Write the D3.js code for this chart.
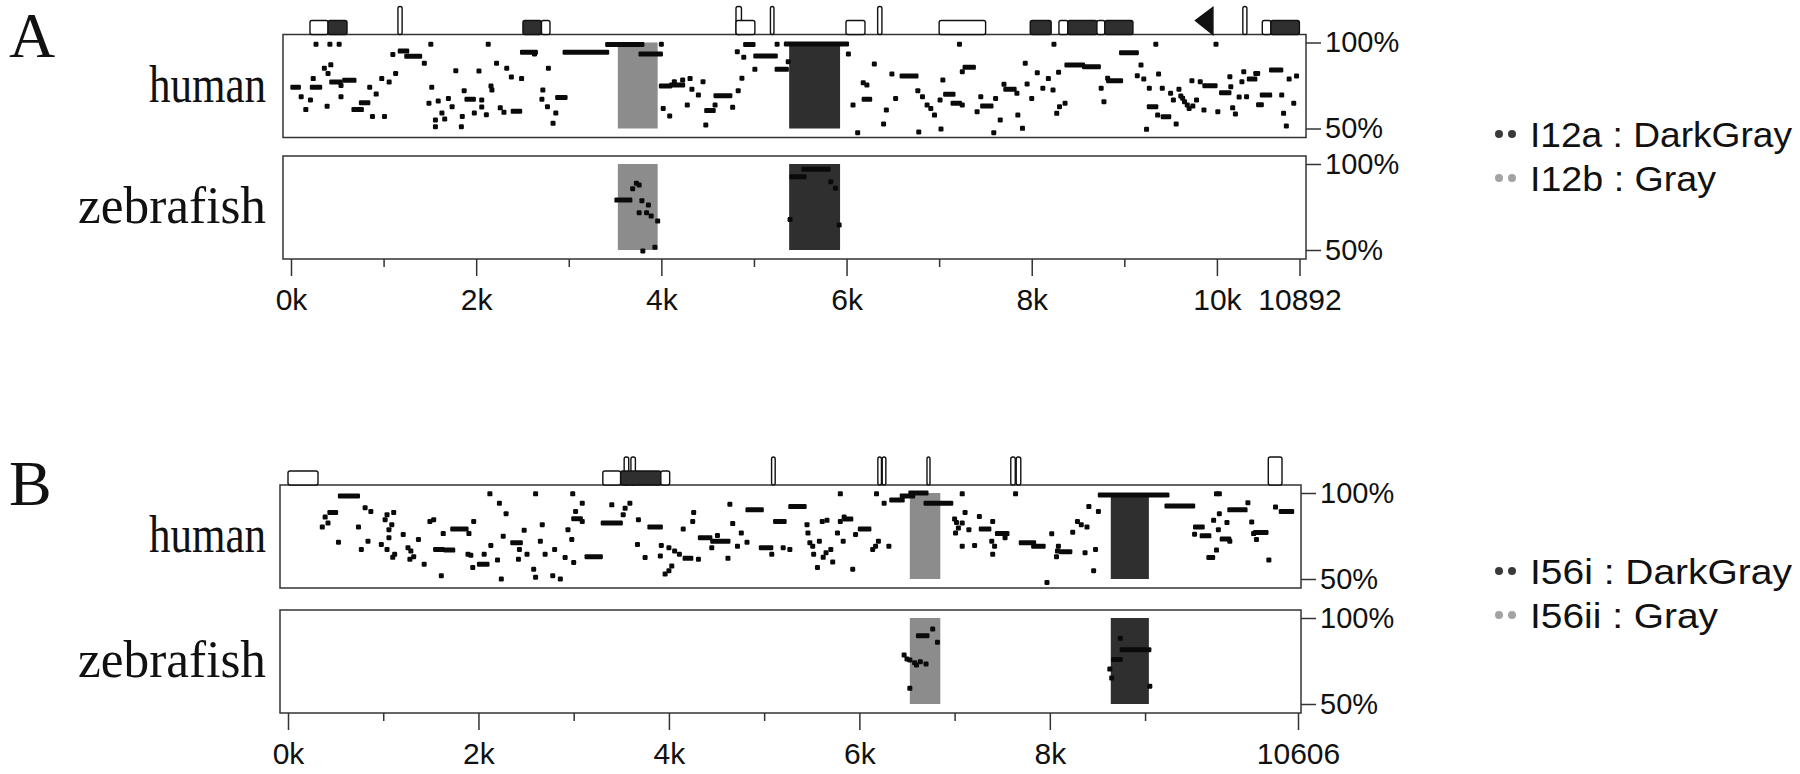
<!DOCTYPE html>
<html>
<head>
<meta charset="UTF-8" />
<title>Conservation plot</title>
<script src="https://cdn.jsdelivr.net/npm/d3@7"></script>
<style>
  body { margin: 0; background: #fff; }
  svg { display: block; background: #fff; }
  .axis text { font-family: "Liberation Sans", Arial, sans-serif; fill: #111; }
  .axis line { stroke: #333; stroke-width: 1.5; }
  .lab { font-family: "Liberation Serif", "Times New Roman", serif; fill: #111; }
  .legend text { font-family: "Liberation Sans", Arial, sans-serif; fill: #111; }
</style>
</head>
<body>
<div id="chart"></div>
<script>
// ---- data (positions in kb, identity in %) ----
const lenA = 10.892, lenB = 10.606;
const tickValsA = [0, 2, 4, 6, 8, 10, 10.892];
const tickLabsA = ["0k", "2k", "4k", "6k", "8k", "10k", "10892"];
const tickValsB = [0, 2, 4, 6, 8, 10.606];
const tickLabsB = ["0k", "2k", "4k", "6k", "8k", "10606"];
const minorTicks = [1, 3, 5, 7, 9];

const regionsA = [
  { name: "I12a", color: "DarkGray", start: 5.38, end: 5.93 },
  { name: "I12b", color: "Gray", start: 3.53, end: 3.96 }
];
const regionsB = [
  { name: "I56i", color: "DarkGray", start: 8.64, end: 9.04 },
  { name: "I56ii", color: "Gray", start: 6.53, end: 6.85 }
];

// gene features above the human track: [start, end, kind]
const featuresA = [
  [0.205, 0.40, "open"], [0.40, 0.605, "fill"], [1.155, 1.2, "tall"],
  [2.505, 2.705, "fill"], [2.705, 2.797, "open"],
  [4.806, 4.865, "tall"], [4.806, 5.01, "open"], [5.178, 5.216, "tall"],
  [5.994, 6.199, "open"], [6.336, 6.382, "tall"], [7.0, 7.502, "open"],
  [7.984, 8.21, "fill"], [8.294, 8.39, "open"], [8.39, 8.704, "fill"],
  [8.704, 8.79, "open"], [8.79, 9.093, "fill"], [9.768, 9.957, "tri"],
  [10.28, 10.324, "tall"], [10.49, 10.583, "open"], [10.583, 10.891, "fill"]
];
const featuresB = [
  [0.0, 0.315, "open"], [3.53, 3.578, "tall"], [3.601, 3.648, "tall"],
  [3.306, 3.493, "open"], [3.493, 3.915, "fill"], [3.915, 4.008, "open"],
  [5.078, 5.116, "tall"], [6.194, 6.232, "tall"], [6.24, 6.278, "tall"],
  [6.71, 6.738, "tall"], [7.59, 7.637, "tall"], [7.647, 7.695, "tall"],
  [10.294, 10.438, "tall"]
];

// conservation windows: [start, end, percent]
const humanA = [
  [0.27,0.27,99],[0.42,0.42,99],[0.52,0.52,99],[1.51,1.51,99],[2.13,2.13,99],[4.0,4.0,99],[7.22,7.22,99],[8.24,8.24,99],[9.34,9.34,99],[9.99,9.99,99],
  [0.02,0.08,74],[0.11,0.11,68.5],[0.16,0.16,61],[0.21,0.21,66.6],[0.23,0.31,74],[0.24,0.24,79],[0.36,0.36,85],[0.39,0.39,63],[0.40,0.40,82],[0.43,0.43,87],[0.44,0.53,77],[0.54,0.54,75],[0.54,0.54,68.5],[0.58,0.68,78],
  [0.68,0.76,61],[0.76,0.83,65],[0.85,0.85,74],[0.88,0.88,57],[0.92,0.92,70],[0.98,0.98,79],[1.01,1.01,57],[1.06,1.06,77],[1.10,1.10,93],[1.13,1.13,82],[1.18,1.25,95],[1.25,1.39,92],[1.44,1.44,88],
  [1.49,1.49,64.7],[1.52,1.52,74],[1.56,1.56,55],[1.56,1.56,51],[1.59,1.59,66],[1.63,1.63,59],[1.66,1.66,55.5],[1.70,1.70,67.5],[1.74,1.74,62.7],[1.78,1.78,83.6],[1.84,1.84,51],[1.85,1.85,57],[1.87,1.87,72],[1.90,1.97,67],[1.98,1.98,59],[2.03,2.03,83.4],[2.06,2.06,66.6],[2.06,2.06,62.5],[2.11,2.11,58],[2.16,2.16,74.7],[2.17,2.17,72.4],[2.22,2.22,88],[2.26,2.26,62],[2.30,2.30,59.4],[2.33,2.33,85],[2.38,2.38,80],[2.40,2.47,60],[2.49,2.49,79],[2.50,2.64,94.3],[2.63,2.63,93.3],[2.71,2.71,67],[2.72,2.72,72.4],[2.77,2.77,62.7],[2.78,2.78,85],[2.83,2.83,53],[2.86,2.86,59],[2.88,2.96,68],
  [2.96,3.41,94.3],[3.42,3.79,98.9],[3.78,3.99,93.3],
  [4.0,4.09,74.7],[4.02,4.02,61.7],[4.09,4.09,57.3],[4.11,4.23,75.3],[4.14,4.14,77.2],[4.23,4.23,78.2],[4.28,4.28,63.7],[4.31,4.31,79],[4.33,4.33,72.8],[4.40,4.40,69.5],[4.45,4.45,77.2],[4.48,4.48,52],[4.49,4.56,60.4],[4.58,4.58,63.7],[4.59,4.74,69.1],[4.77,4.77,62.3],[4.82,4.82,94.6],[4.83,4.83,72],[4.87,4.87,79.2],[4.89,4.89,91.4],[4.91,4.99,98.9],[5.01,5.01,84.4],[5.02,5.23,92.2],[5.25,5.25,99],[5.25,5.35,84.4],[5.37,5.37,88.8],[5.35,6.0,99.1],
  [6.02,6.02,93.3],[6.07,6.07,63.7],[6.12,6.12,47.6],[6.18,6.18,76.6],[6.19,6.25,67],[6.22,6.22,75.3],[6.30,6.30,87.5],[6.40,6.40,52.6],[6.43,6.43,60.8],[6.49,6.49,81.7],[6.53,6.53,67.5],[6.60,6.75,80.5],[6.77,6.77,72],[6.78,6.78,48],[6.82,6.82,68.5],[6.87,6.87,63.7],[6.91,6.91,61.7],[6.95,6.95,57.8],[7.01,7.01,66.6],[7.02,7.02,49.7],[7.04,7.04,78.2],[7.07,7.15,69.9],[7.15,7.22,64.7],[7.25,7.25,63.7],[7.25,7.25,83],[7.28,7.37,85.6],[7.41,7.41,59.8],[7.45,7.45,68.5],[7.47,7.56,63.1],[7.59,7.59,47.6],[7.61,7.61,67.5],[7.66,7.66,55],[7.70,7.70,75.7],[7.72,7.81,72.8],[7.84,7.84,70.5],[7.85,7.85,57.8],[7.90,7.90,50.1],[7.93,7.93,87.9],[7.95,7.95,75.9],[8.0,8.0,67.5],[8.06,8.06,82.4],[8.12,8.12,73.4],[8.18,8.18,79],[8.23,8.23,72.4],[8.27,8.27,58.8],[8.29,8.29,82.7],[8.30,8.30,62.7],[8.36,8.36,64.7],[8.38,8.55,86.9],[8.57,8.72,85.9],[8.75,8.75,73.4],[8.78,8.78,65.6],[8.82,8.82,79.2],[8.83,8.96,77.8],
  [8.97,9.13,94.1],[9.14,9.14,80.7],[9.18,9.18,86.9],[9.21,9.21,78.8],[9.24,9.24,49.5],[9.27,9.27,73.4],[9.27,9.34,62.7],[9.36,9.36,57.8],[9.37,9.37,81.7],[9.41,9.41,73.4],[9.42,9.48,56.9],[9.50,9.50,70.5],[9.53,9.53,66.6],[9.56,9.56,52.6],[9.59,9.59,72.8],[9.61,9.61,68.9],[9.63,9.63,67.6],[9.65,9.65,65.6],[9.68,9.68,63.7],[9.70,9.70,61.7],[9.73,9.73,77.8],[9.74,9.74,63.1],[9.78,9.78,66.6],[9.82,9.82,77.2],[9.86,9.86,60.8],[9.87,9.98,74.9],[10.01,10.01,59.8],[10.05,10.13,70.8],[10.14,10.14,80.1],[10.15,10.15,74.3],[10.17,10.17,62],[10.20,10.20,58.4],[10.24,10.24,68.3],[10.27,10.27,77.2],[10.29,10.29,83],[10.32,10.32,68.5],[10.35,10.41,78.8],[10.42,10.44,82],[10.45,10.48,63.8],[10.49,10.57,69.5],[10.59,10.69,84],[10.70,10.70,69.5],[10.72,10.72,58.8],[10.75,10.75,51.5],[10.78,10.78,78.8],[10.83,10.83,64.7],[10.86,10.86,80.5]
];
const zebraA = [
  [3.52,3.66,79],[3.69,3.69,85.6],[3.73,3.73,88.8],[3.76,3.76,87.8],[3.79,3.79,78.7],[3.80,3.80,49.4],[3.76,3.76,71.7],[3.84,3.84,71.7],[3.86,3.86,76.2],[3.89,3.89,69.8],[3.93,3.93,51.6],[3.96,3.96,66.9],
  [5.41,5.54,92.6],[5.54,5.80,96.9],[5.83,5.83,89.7],[5.88,5.88,85.9],[5.39,5.39,67.8],[5.92,5.92,64.5]
];
const humanB = [
  [0.55,0.73,98.3],[0.44,0.50,88.7],[0.39,0.39,86],[0.36,0.36,80.3],[0.42,0.42,82.6],[0.53,0.53,71.4],[0.74,0.74,80.3],[0.81,0.81,91.4],[0.87,0.87,89.3],[0.84,0.84,72],[0.77,0.77,67.2],[0.98,0.98,70.1],[1.02,1.02,84.5],[1.04,1.04,87.4],[1.11,1.11,88.7],[1.09,1.09,81.6],[1.06,1.06,78.7],[1.06,1.06,74],[1.04,1.04,67.2],[1.12,1.12,64.4],[1.10,1.10,62.6],[1.21,1.21,75.9],[1.26,1.26,68.2],[1.29,1.29,66.3],[1.32,1.32,63],[1.28,1.28,61.5],[1.37,1.37,73],[1.43,1.43,58.6],[1.49,1.49,83.5],[1.53,1.53,84.5],[1.55,1.62,67.2],[1.66,1.73,66.8],[1.63,1.63,76.4],[1.61,1.61,51.9],[1.73,1.87,79.1],[1.90,1.90,76.4],[1.95,1.95,83.5],[1.89,1.89,64.4],[1.92,1.92,63.8],[1.94,1.94,56.7],[2.01,2.09,58.6],[2.06,2.06,64.4],[2.13,2.13,69.5],[2.12,2.12,99.5],[2.22,2.22,94.1],[2.29,2.29,88],[2.26,2.26,74.9],[2.20,2.20,61.1],[2.24,2.24,50],[2.36,2.44,71.1],[2.43,2.43,67.2],[2.42,2.42,61.5],[2.48,2.48,78.3],[2.51,2.51,64.4],[2.58,2.58,55.7],[2.60,2.60,51],[2.60,2.60,99.5],[2.65,2.65,72],[2.67,2.67,81.6],[2.70,2.70,64.4],[2.78,2.78,51.9],[2.80,2.80,67.2],[2.86,2.86,50],[2.91,2.91,62.5],[2.94,2.94,78.7],[2.98,2.98,73],[2.99,2.99,99.5],
  [3.14,3.28,63],[3.02,3.02,89.3],[3.09,3.09,94.1],[3.0,3.07,85],[3.09,3.09,83.5],[3.0,3.0,59.6],[3.40,3.40,93.1],[3.31,3.49,82.6],[3.54,3.54,91.2],[3.59,3.59,94.1],[3.52,3.52,87.4],[3.68,3.68,84.5],[3.80,3.91,80.3],[3.75,3.75,62.5],[3.67,3.67,70.1],[3.92,3.92,69.5],[4.0,4.0,68.2],[4.06,4.06,66.3],[4.11,4.11,64.4],[4.17,4.23,62],[4.31,4.31,61.5],[3.96,3.96,52.9],[4.0,4.0,54.8],[4.03,4.03,57.6],[3.91,3.91,63.4],[4.15,4.15,79.1],[4.25,4.25,83.5],[4.26,4.26,88.7],[4.33,4.43,74],[4.45,4.45,68.2],[4.46,4.62,72],[4.51,4.51,75.3],[4.62,4.62,62],[4.64,4.64,93.5],[4.67,4.67,82.2],[4.72,4.72,69.1],[4.76,4.76,76.8],[4.82,4.82,71.4],[4.83,4.97,90.2],[4.97,5.07,68.2],[5.08,5.08,64.4],[5.12,5.21,83.5],[5.20,5.20,68.2],[5.27,5.27,67.2],[5.28,5.42,92.1],[5.45,5.45,81.6],[5.46,5.46,76.8],[5.48,5.48,71.1],[5.51,5.51,69.1],[5.52,5.52,64.4],[5.56,5.56,56.7],[5.58,5.58,72],[5.61,5.61,83.5],[5.62,5.62,62.6],[5.65,5.65,65.3],[5.66,5.66,84.1],[5.70,5.70,67.2],[5.72,5.72,59.9],[5.77,5.77,76.8],[5.80,5.80,83.5],[5.80,5.80,99.5],[5.84,5.84,86],[5.85,5.91,84.9],[5.83,5.83,72],[5.93,5.93,55.7],[5.96,5.96,75.9],
  [6.01,6.10,79.1],[6.14,6.14,67.2],[6.17,6.17,69.1],[6.20,6.20,72],[6.18,6.18,99.5],[6.31,6.31,69.1],[6.26,6.26,94.1],[6.34,6.45,96],[6.45,6.56,98.3],[6.54,6.70,100],[6.70,6.96,94.1],[7.0,7.0,84.9],[7.02,7.02,82.9],[7.04,7.04,79.7],[7.08,7.08,99.5],[7.11,7.11,88.7],[7.15,7.15,78.7],[7.08,7.08,82.6],[7.01,7.01,76.8],[7.08,7.08,69.1],[7.21,7.21,69.5],[7.26,7.26,86.4],[7.28,7.36,79.1],[7.40,7.40,83.5],[7.39,7.39,72],[7.42,7.42,69.1],[7.40,7.40,64.4],[7.45,7.55,76.4],[7.53,7.53,74],[7.64,7.64,99.5],[7.70,7.83,71.1],[7.83,7.93,69.1],[7.97,7.97,48],
  [8.02,8.02,76.3],[8.08,8.08,66.3],[8.09,8.09,69.1],[8.07,8.07,63],[8.12,8.21,65.9],[8.24,8.24,77.2],[8.29,8.29,83.5],[8.33,8.33,81.6],[8.37,8.37,65.3],[8.39,8.39,80.3],[8.46,8.46,54.8],[8.48,8.48,67.2],[8.41,8.41,92.1],[8.51,8.51,89.3],[8.53,9.23,98.8],[9.23,9.50,92.5],[9.52,9.52,76],[9.53,9.60,80.3],[9.60,9.67,75.1],[9.67,9.71,62.5],[9.72,9.72,84.1],[9.75,9.75,99.5],[9.78,9.78,99.5],[9.75,9.75,66.8],[9.77,9.77,78.7],[9.78,9.78,87.9],[9.81,9.88,73.2],[9.86,9.86,82.8],[9.89,9.89,72],[9.89,10.05,90.2],[10.08,10.08,94.3],[10.12,10.12,83.1],[10.14,10.14,76.4],[10.16,10.27,77],[10.17,10.17,73],[10.30,10.30,61.1],[10.37,10.37,91.8],[10.43,10.54,89.3]
];
const zebraB = [
  [6.47,6.47,78.5],[6.50,6.50,76.2],[6.53,6.53,75.6],[6.58,6.58,74],[6.60,6.60,72.7],[6.64,6.64,74.6],[6.70,6.70,73.3],[6.62,6.71,89.7],[6.77,6.77,93.6],[6.82,6.82,85.9],[6.53,6.53,59.1],
  [8.74,8.74,88.2],[8.76,9.04,81.6],[8.67,8.74,75.8],[8.63,8.63,70.3],[8.65,8.65,65.1],[9.05,9.05,60.3]
];

// ---- layout ----
const W = 1800, H = 774, trackH = 103;
const fills = { DarkGray: "#2f2f2f", Gray: "#8c8c8c" };
const dotFills = { DarkGray: "#3a3a3a", Gray: "#a3a3a3" };

const svg = d3.select("#chart").append("svg").attr("width", W).attr("height", H);

function drawPanel(p) {
  const g = svg.append("g");
  const x = d3.scaleLinear().domain([0, p.len]).range(p.range);

  g.append("text").attr("class", "lab").attr("x", 9).attr("y", p.letterY)
    .attr("font-size", 64).text(p.letter);

  const tracks = [
    { top: p.tops[0], data: p.human, name: "human", width: 117 },
    { top: p.tops[1], data: p.zebra, name: "zebrafish", width: 188 }
  ];

  tracks.forEach(t => {
    const y = d3.scaleLinear().domain([50, 100]).range([t.top + 94, t.top + 8]);
    const tg = g.append("g");

    tg.selectAll(".region").data(p.regions).join("rect")
      .attr("x", d => x(d.start)).attr("width", d => x(d.end) - x(d.start))
      .attr("y", y(100)).attr("height", y(50) - y(100))
      .attr("fill", d => fills[d.color]);

    tg.selectAll(".pt").data(t.data).join("rect")
      .attr("x", d => x(d[0]) - 2.5)
      .attr("width", d => Math.max(5, x(d[1]) - x(d[0]) + 5))
      .attr("y", d => y(d[2]) - 2.5).attr("height", 5)
      .attr("rx", 1.2).attr("fill", "#0a0a0a");

    tg.append("rect").attr("x", p.box[0]).attr("y", t.top)
      .attr("width", p.box[1] - p.box[0]).attr("height", trackH)
      .attr("fill", "none").attr("stroke", "#333").attr("stroke-width", 1.5);

    const ya = tg.append("g").attr("class", "axis")
      .attr("transform", `translate(${p.box[1]},0)`)
      .call(d3.axisRight(y).tickValues([50, 100]).tickSize(15).tickPadding(4)
        .tickFormat(d => d + "%"));
    ya.select(".domain").remove();
    ya.selectAll("text").attr("font-size", 29);

    tg.append("text").attr("class", "lab").attr("x", 266).attr("y", t.top + 67)
      .attr("text-anchor", "end").attr("font-size", 52)
      .attr("textLength", t.width).attr("lengthAdjust", "spacingAndGlyphs")
      .text(t.name);
  });

  // gene features sitting on the human track
  const top = p.tops[0];
  const fg = g.append("g").attr("stroke", "#111").attr("stroke-width", 1.4);
  p.features.forEach(f => {
    const x0 = x(f[0]), x1 = x(f[1]);
    if (f[2] === "tri") {
      fg.append("path").attr("d", `M${x0},${top - 14}L${x1},${top - 27}L${x1},${top}Z`)
        .attr("fill", "#111");
    } else {
      const h = f[2] === "tall" ? 28 : 14;
      fg.append("rect").attr("x", x0).attr("y", top - h)
        .attr("width", Math.max(3, x1 - x0)).attr("height", h).attr("rx", 2)
        .attr("fill", f[2] === "fill" ? "#2f2f2f" : "#fff");
    }
  });

  // bottom axis
  const base = p.tops[1] + trackH;
  const xa = g.append("g").attr("class", "axis").attr("transform", `translate(0,${base})`)
    .call(d3.axisBottom(x).tickValues(p.ticks).tickSize(17).tickPadding(13)
      .tickFormat((d, i) => p.tickLabels[i]));
  xa.select(".domain").remove();
  xa.selectAll("text").attr("font-size", 30);
  const xm = g.append("g").attr("class", "axis").attr("transform", `translate(0,${base})`)
    .call(d3.axisBottom(x).tickValues(minorTicks).tickSize(8).tickFormat(""));
  xm.select(".domain").remove();

  // legend (type in the original is set a little wide, so stretch it)
  const lg = g.append("g").attr("class", "legend");
  p.regions.forEach((r, i) => {
    const ly = p.legendY + i * 44;
    [1499, 1512].forEach(cx => lg.append("circle").attr("cx", cx).attr("cy", ly)
      .attr("r", 4).attr("fill", dotFills[r.color]));
    lg.append("text").attr("x", 1530).attr("y", ly).attr("dy", "0.36em")
      .attr("font-size", 35)
      .attr("textLength", p.legendW[i]).attr("lengthAdjust", "spacingAndGlyphs")
      .text(`${r.name} : ${r.color}`);
  });
}

drawPanel({
  letter: "A", letterY: 57, len: lenA, range: [291, 1299.5], box: [283, 1306],
  tops: [34.5, 156], human: humanA, zebra: zebraA, features: featuresA,
  regions: regionsA, ticks: tickValsA, tickLabels: tickLabsA, legendY: 134,
  legendW: [262, 186]
});
drawPanel({
  letter: "B", letterY: 505, len: lenB, range: [288, 1298], box: [280, 1301],
  tops: [485, 610], human: humanB, zebra: zebraB, features: featuresB,
  regions: regionsB, ticks: tickValsB, tickLabels: tickLabsB, legendY: 571,
  legendW: [262, 188]
});
</script>
</body>
</html>
